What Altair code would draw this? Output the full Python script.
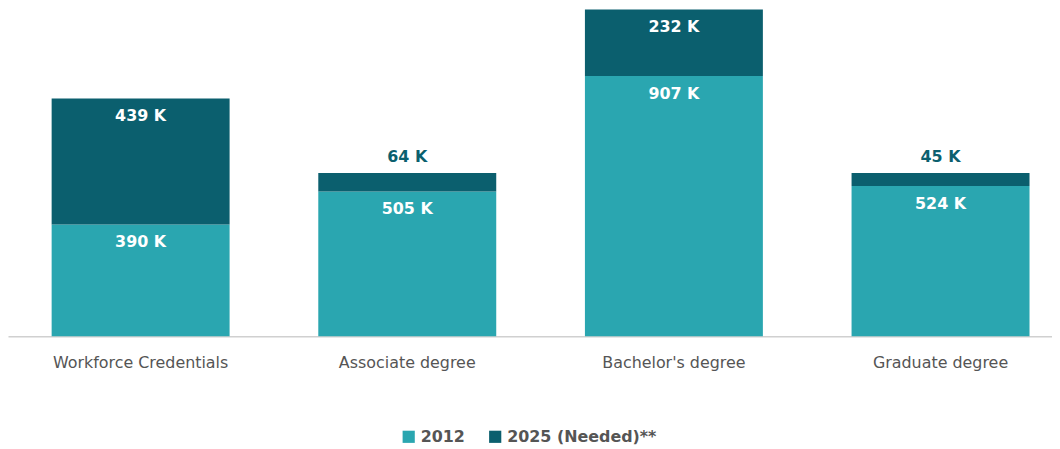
import altair as alt
import pandas as pd

categories = ["Workforce Credentials", "Associate degree", "Bachelor's degree", "Graduate degree"]
series = ["2012", "2025 (Needed)**"]
values_2012 = [390, 505, 907, 524]
values_2025 = [439, 64, 232, 45]
colors = ["#2aa6b0", "#0b5f6e"]

rows = []
for i, c in enumerate(categories):
    start = 0
    for s, vals in zip(series, [values_2012, values_2025]):
        v = vals[i]
        rows.append({"category": c, "series": s, "value": v, "start": start, "end": start + v,
                     "label": f"{v} K"})
        start += v
df = pd.DataFrame(rows)

FONT = "DejaVu Sans"
xscale = alt.Scale(paddingInner=0.3326, paddingOuter=0.124, align=0.66)
x = alt.X("category:N", sort=categories, title=None, scale=xscale,
          axis=alt.Axis(labelAngle=0, labelFontSize=16, labelColor="#555555", labelFont=FONT,
                        labelPadding=18, ticks=False, domainColor="#d0d0d0", domainWidth=1.5))
yscale = alt.Scale(domain=[0, 1140], nice=False)

bars = alt.Chart(df).mark_bar().encode(
    x=x,
    y=alt.Y("start:Q", scale=yscale, axis=None),
    y2="end:Q",
    color=alt.Color("series:N", sort=series, scale=alt.Scale(domain=series, range=colors),
                    legend=alt.Legend(title=None, orient="none", legendX=395, legendY=422,
                                      direction="horizontal",
                                      symbolType="square", symbolSize=150, labelFontSize=16,
                                      labelFont=FONT, labelColor="#555555", labelFontWeight="bold",
                                      columnPadding=22, symbolStrokeWidth=0)),
)

inside = alt.Chart(df).transform_filter("datum.value >= 100").mark_text(
    color="white", fontSize=16, fontWeight="bold", font=FONT, baseline="middle", dy=18
).encode(x=alt.X("category:N", sort=categories, scale=xscale), y=alt.Y("end:Q", scale=yscale), text="label:N")

outside = alt.Chart(df).transform_filter("datum.value < 100").mark_text(
    color="#0b5f6e", fontSize=16, fontWeight="bold", font=FONT, baseline="middle", dy=-16
).encode(x=alt.X("category:N", sort=categories, scale=xscale), y=alt.Y("end:Q", scale=yscale), text="label:N")

chart = alt.layer(bars, inside, outside).properties(
    width=1050, height=329, padding={"left": 0, "right": 0, "top": 0, "bottom": 0}
).configure_view(stroke=None)

chart.save("out.html", embed_options={"renderer": "svg", "actions": False})
